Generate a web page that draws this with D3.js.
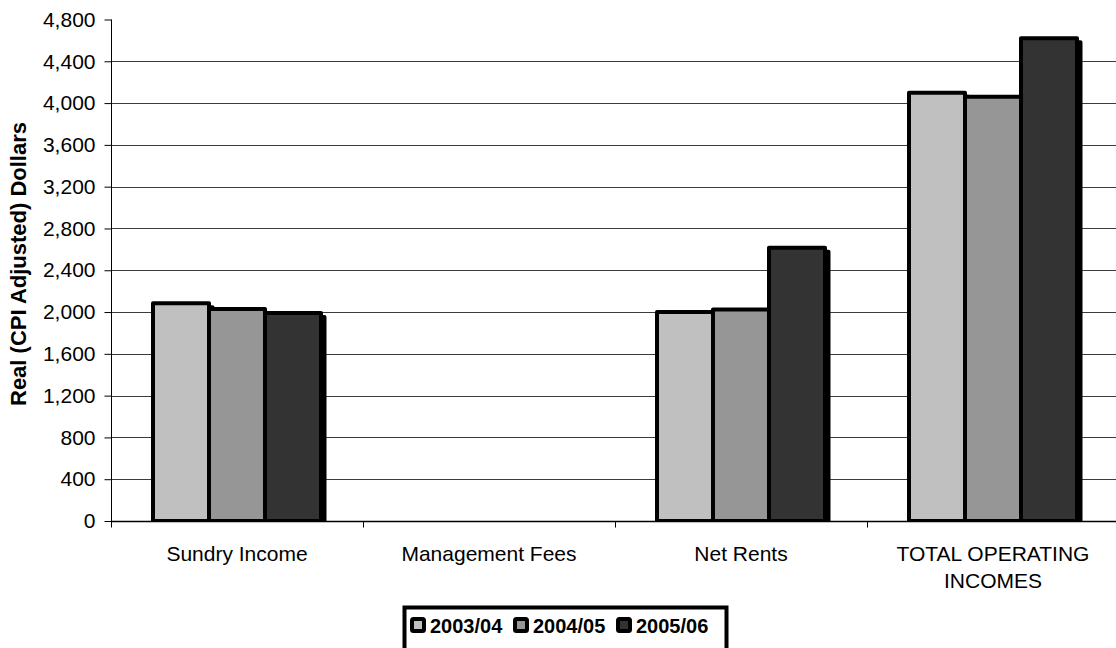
<!DOCTYPE html>
<html>
<head>
<meta charset="utf-8">
<script src="https://cdn.jsdelivr.net/npm/d3@7"></script>
<style>
  html, body { margin: 0; padding: 0; background: #fff; }
  svg { display: block; }
  text { font-family: "Liberation Sans", Arial, sans-serif; fill: #000; }
</style>
</head>
<body>
<svg id="chart" width="1116" height="648"></svg>
<script>
// Operating income categories and yearly series (real, CPI adjusted dollars)
const categories = ["Sundry Income", "Management Fees", "Net Rents", "TOTAL OPERATING INCOMES"];
const categoryLines = [["Sundry Income"], ["Management Fees"], ["Net Rents"], ["TOTAL OPERATING", "INCOMES"]];
const seriesNames = ["2003/04", "2004/05", "2005/06"];
const values2003 = [2085, 0, 2000, 4100];
const values2004 = [2030, 0, 2025, 4060];
const values2005 = [1990, 0, 2615, 4620];
const yTicks = [0, 400, 800, 1200, 1600, 2000, 2400, 2800, 3200, 3600, 4000, 4400, 4800];
const seriesColors = ["#c0c0c0", "#969696", "#333333"];
const yTitle = "Real (CPI Adjusted) Dollars";

const seriesValues = [values2003, values2004, values2005];

const svg = d3.select("#chart");
const plot = { left: 111, right: 1119, top: 19.5, bottom: 521 };

const x = d3.scaleBand().domain(categories).range([plot.left, plot.right]).padding(0);
const xInner = d3.scaleBand().domain(seriesNames).range([0, x.bandwidth()])
  .paddingInner(0).paddingOuter(0.75);
const y = d3.scaleLinear().domain([0, 4800]).range([plot.bottom, plot.top]);

// clip for bars so shadows don't run below the category axis
svg.append("defs").append("clipPath").attr("id", "plotClip")
  .append("rect").attr("x", plot.left).attr("y", 0)
  .attr("width", plot.right - plot.left).attr("height", plot.bottom + 0.5);

// horizontal gridlines
svg.append("g").selectAll("line")
  .data(yTicks.filter(t => t > 0 && t < 4800))
  .join("line")
  .attr("x1", plot.left).attr("x2", 1116)
  .attr("y1", d => Math.round(y(d)) + 0.5).attr("y2", d => Math.round(y(d)) + 0.5)
  .attr("stroke", "#3c3c3c").attr("stroke-width", 1);

// bars: each series drawn in turn, every bar with a black drop shadow
const barData = [];
seriesNames.forEach((s, si) => {
  categories.forEach((c, ci) => {
    barData.push({ series: s, si, category: c, value: seriesValues[si][ci] });
  });
});

const bars = svg.append("g").attr("clip-path", "url(#plotClip)");
seriesNames.forEach((s, si) => {
  const rows = barData.filter(d => d.si === si && d.value > 0);
  const g = bars.append("g");
  g.selectAll("rect.shadow").data(rows).join("rect")
    .attr("class", "shadow")
    .attr("x", d => x(d.category) + xInner(d.series) + 3.5)
    .attr("y", d => y(d.value) + 4)
    .attr("width", xInner.bandwidth())
    .attr("height", d => y(0) - y(d.value))
    .attr("fill", "#000").attr("stroke", "#000").attr("stroke-width", 4)
    .attr("stroke-linejoin", "round");
  g.selectAll("rect.bar").data(rows).join("rect")
    .attr("class", "bar")
    .attr("x", d => x(d.category) + xInner(d.series))
    .attr("y", d => y(d.value))
    .attr("width", xInner.bandwidth())
    .attr("height", d => y(0) - y(d.value))
    .attr("fill", seriesColors[si]).attr("stroke", "#000").attr("stroke-width", 4)
    .attr("stroke-linejoin", "round");
});

// value axis
const yAxis = svg.append("g")
  .attr("transform", `translate(${plot.left + 0.5},0)`)
  .call(d3.axisLeft(y).tickValues(yTicks).tickFormat(d3.format(",")).tickSize(7).tickPadding(9).tickSizeOuter(0));
yAxis.select(".domain").attr("stroke", "#000").attr("d", `M0,${plot.top}V${plot.bottom + 6}`);
yAxis.selectAll(".tick line").attr("stroke", "#000");
yAxis.selectAll(".tick text").attr("font-size", 21).attr("font-family", "Liberation Sans, Arial, sans-serif").attr("fill", "#000");

// category axis
const xAxis = svg.append("g").attr("transform", `translate(0,${plot.bottom + 0.5})`);
xAxis.append("line").attr("x1", plot.left).attr("x2", 1116).attr("y1", 0).attr("y2", 0)
  .attr("stroke", "#000").attr("stroke-width", 1.3);
const boundaries = categories.map(c => x(c)).concat([plot.right]);
xAxis.selectAll("line.tick").data(boundaries).join("line")
  .attr("class", "tick")
  .attr("x1", d => Math.round(d) + 0.5).attr("x2", d => Math.round(d) + 0.5)
  .attr("y1", 0).attr("y2", 6).attr("stroke", "#000");
const catLabels = xAxis.selectAll("text.cat").data(categories).join("text")
  .attr("class", "cat")
  .attr("text-anchor", "middle")
  .attr("font-size", 21)
  .attr("x", d => x(d) + x.bandwidth() / 2)
  .attr("y", 39);
catLabels.each(function(d, i) {
  d3.select(this).selectAll("tspan").data(categoryLines[i]).join("tspan")
    .attr("x", x(d) + x.bandwidth() / 2)
    .attr("dy", (l, j) => j === 0 ? 0 : 27)
    .text(l => l);
});

// value axis title
svg.append("text")
  .attr("transform", "translate(26,264) rotate(-90)")
  .attr("text-anchor", "middle")
  .attr("font-size", 22)
  .attr("font-weight", "bold")
  .text(yTitle);

// legend
const legend = svg.append("g");
legend.append("rect")
  .attr("x", 404.5).attr("y", 607.5).attr("width", 322).attr("height", 60)
  .attr("fill", "#fff").attr("stroke", "#000").attr("stroke-width", 4);
const item = legend.selectAll("g.item").data(seriesNames).join("g")
  .attr("class", "item")
  .attr("transform", (d, i) => `translate(${410 + i * 103},0)`);
item.append("rect")
  .attr("x", 2).attr("y", 619).attr("width", 12).attr("height", 12)
  .attr("rx", 1.5)
  .attr("fill", (d, i) => seriesColors[i]).attr("stroke", "#000").attr("stroke-width", 4);
item.append("text")
  .attr("x", 20).attr("y", 632.5)
  .attr("font-size", 20).attr("font-weight", "bold")
  .text(d => d);
</script>
</body>
</html>
